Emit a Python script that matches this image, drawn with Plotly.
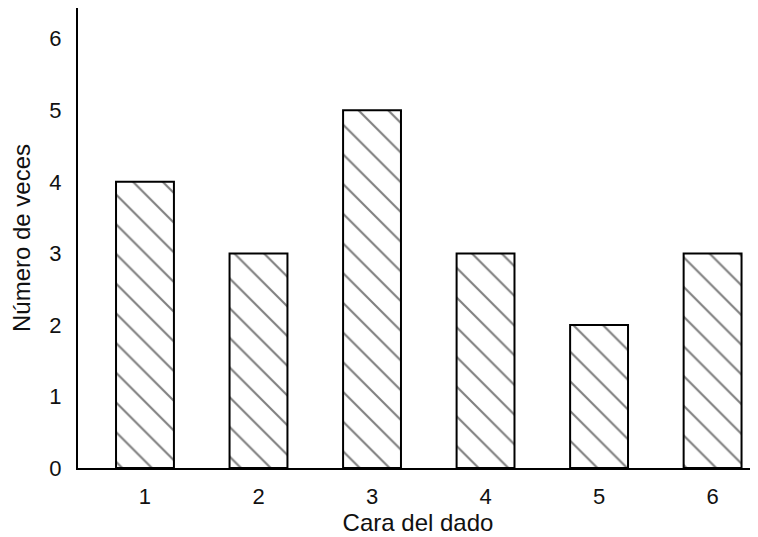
import plotly.graph_objects as go

caras = [1, 2, 3, 4, 5, 6]
veces = [4, 3, 5, 3, 2, 3]
y_ticks = [0, 1, 2, 3, 4, 5, 6]

fig = go.Figure(go.Bar(
    x=caras, y=veces,
    marker=dict(
        color="white",
        line=dict(color="black", width=2),
        pattern=dict(shape="\\", fgcolor="black", bgcolor="white", size=21, solidity=0.1),
    ),
))

font = dict(family="Liberation Sans, Arial, sans-serif", size=22, color="#111")
title_font = dict(family="Liberation Sans, Arial, sans-serif", size=24, color="#111")
fig.update_layout(
    width=758, height=537,
    margin=dict(l=70, r=8, t=0, b=77),
    paper_bgcolor="white", plot_bgcolor="white",
    bargap=0.49,
    font=font,
    showlegend=False,
)
fig.update_xaxes(
    range=[0.41, 6.4], tickvals=caras, ticktext=[str(c) for c in caras],
    showline=True, linecolor="black", linewidth=2, showgrid=False, zeroline=False,
    ticks="", ticklabelstandoff=8, tickfont=font,
    title=dict(text="Cara del dado", standoff=6, font=title_font),
    automargin=False,
)
fig.update_yaxes(
    range=[0, 6.43], tickvals=y_ticks, ticktext=[str(t) for t in y_ticks],
    showline=True, linecolor="black", linewidth=2, showgrid=False, zeroline=False,
    ticks="", ticklabelstandoff=10, tickfont=font,
    title=dict(text="Número de veces", standoff=12, font=title_font),
    automargin=False,
)

fig.write_html("out.html")
